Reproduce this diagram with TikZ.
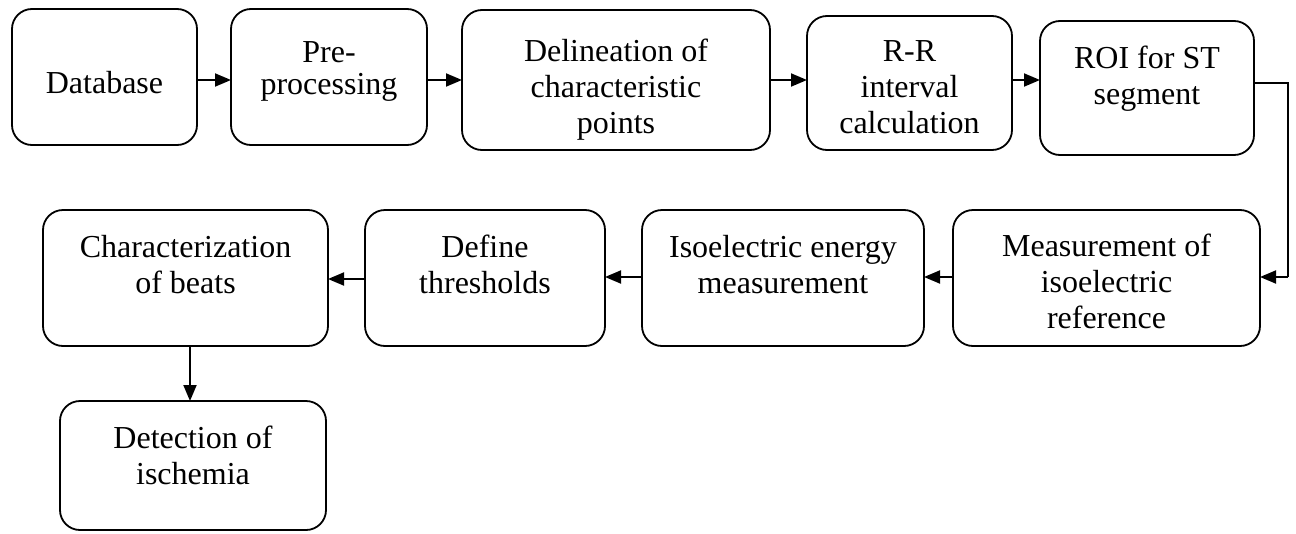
\documentclass[tikz,border=0pt]{standalone}
\usepackage{fontspec}
\setmainfont{Liberation Serif}
\usetikzlibrary{arrows.meta}
\begin{document}
\begin{tikzpicture}[x=1pt,y=-1pt,
  box/.style={draw, line width=1.8pt, rounded corners=20pt, inner sep=0pt, outer sep=0pt},
  txt/.style={align=center, inner sep=0pt, font=\fontsize{32}{36}\selectfont, anchor=base},
  arr/.style={line width=1.9pt, -{Triangle[length=16pt,width=13pt]}},
  ln/.style={line width=1.9pt}]
\useasboundingbox (0,0) rectangle (1296,533);
% row 1
\node[box, minimum width=185pt, minimum height=136pt] (db)  at (104.5,77) {};
\node[box, minimum width=196pt, minimum height=136pt] (pre) at (329,77) {};
\node[box, minimum width=308pt, minimum height=140pt] (del) at (616,80) {};
\node[box, minimum width=205pt, minimum height=134pt] (rr)  at (909.5,83) {};
\node[box, minimum width=214pt, minimum height=134pt] (roi) at (1147,88) {};
% row 2
\node[box, minimum width=285pt, minimum height=136pt] (chr) at (185.5,278) {};
\node[box, minimum width=240pt, minimum height=136pt] (thr) at (485,278) {};
\node[box, minimum width=282pt, minimum height=136pt] (iso) at (783,278) {};
\node[box, minimum width=307pt, minimum height=136pt] (mea) at (1106.5,278) {};
% row 3
\node[box, minimum width=266pt, minimum height=129pt] (det) at (193,465.5) {};
% texts (anchor = baseline of last line)
\node[txt] (dbt)  at (104.5,93) {Database};
\node[txt] (pret) at (329,94) {Pre-\\[-4pt]processing};
\node[txt] (delt) at (616,133) {Delineation of\\characteristic\\points};
\node[txt] (rrt)  at (909.5,133) {R-R\\interval\\calculation};
\node[txt] (roit) at (1147,104) {ROI for ST\\segment};
\node[txt] (chrt) at (185.5,293) {Characterization\\of beats};
\node[txt] (thrt) at (485,293) {Define\\thresholds};
\node[txt] (isot) at (783,293) {Isoelectric energy\\measurement};
\node[txt] (meat) at (1106.5,328) {Measurement of\\isoelectric\\reference};
\node[txt] (dett) at (193,484) {Detection of\\ischemia};
% connectors
\draw[arr] (db.east |- 0,80) -- (pre.west |- 0,80);
\draw[arr] (pre.east |- 0,80) -- (del.west |- 0,80);
\draw[arr] (del.east |- 0,80) -- (rr.west |- 0,80);
\draw[arr] (rr.east |- 0,80) -- (roi.west |- 0,80);
\coordinate (c1) at (1288,83);
\coordinate (c2) at (1288,277);
\draw[ln] (roi.east |- c1) -- (c1) -- (c2);
\draw[arr] (c2) -- (mea.east |- c2);
\draw[arr] (mea.west |- 0,277) -- (iso.east |- 0,277);
\draw[arr] (iso.west |- 0,277) -- (thr.east |- 0,277);
\draw[arr] (thr.west |- 0,279) -- (chr.east |- 0,279);
\draw[arr] (chr.south -| 190,0) -- (det.north -| 190,0);
\end{tikzpicture}
\end{document}
